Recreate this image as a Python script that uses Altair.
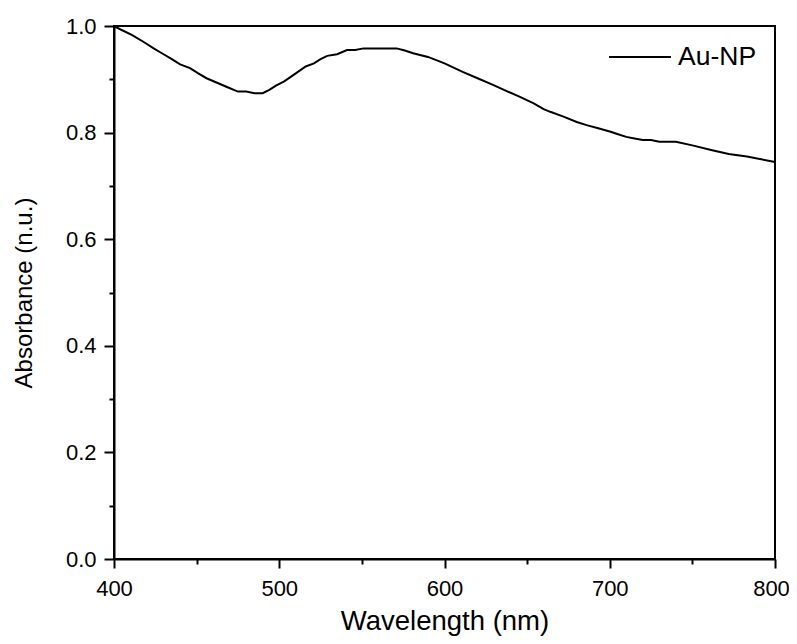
import altair as alt
import pandas as pd

wavelength = [400, 405, 411, 418, 424, 430, 435, 440, 446, 451, 456, 462, 468, 475, 480,
              485, 490, 494, 498, 503, 510, 516, 521, 525, 529, 535, 541, 546, 551, 560,
              571, 576, 581, 590, 600, 611, 620, 629, 636, 645, 654, 660, 664, 672, 680,
              686, 693, 700, 705, 710, 715, 720, 725, 730, 740, 750, 762, 772, 783, 790, 800]
absorbance = [1.000, 0.992, 0.983, 0.970, 0.958, 0.947, 0.938, 0.928, 0.921, 0.911, 0.902,
              0.894, 0.886, 0.877, 0.877, 0.874, 0.874, 0.880, 0.888, 0.896, 0.911, 0.924,
              0.930, 0.938, 0.944, 0.947, 0.955, 0.955, 0.958, 0.958, 0.958, 0.954, 0.949,
              0.942, 0.930, 0.914, 0.902, 0.890, 0.880, 0.868, 0.855, 0.844, 0.839, 0.830,
              0.820, 0.814, 0.808, 0.802, 0.797, 0.792, 0.789, 0.786, 0.786, 0.783, 0.783,
              0.776, 0.767, 0.760, 0.755, 0.751, 0.745]
series = ["Au-NP"] * len(wavelength)

x_ticks = [400, 450, 500, 550, 600, 650, 700, 750, 800]
y_ticks = [0.0, 0.1, 0.2, 0.3, 0.4, 0.5, 0.6, 0.7, 0.8, 0.9, 1.0]

df = pd.DataFrame({"wavelength": wavelength, "absorbance": absorbance, "series": series})

FONT = "Liberation Sans"
x_major_test = "datum.value % 100 === 0"
y_major_test = "abs(datum.value * 5 - round(datum.value * 5)) < 0.001"

chart = alt.Chart(df).mark_line(strokeWidth=2).encode(
    x=alt.X("wavelength:Q", scale=alt.Scale(domain=[400, 800], nice=False, zero=False),
            axis=alt.Axis(values=x_ticks, title="Wavelength (nm)",
                          tickSize={"condition": {"test": x_major_test, "value": 9}, "value": 5},
                          labelExpr=f"({x_major_test}) ? datum.label : ''",
                          labelFlush=False,
                          labelOffset={"condition": {"test": "datum.value === 800", "value": -4},
                                       "value": 0},
                          labelPadding=10, titlePadding=8,
                          titleFontSize=27.5, format="d")),
    y=alt.Y("absorbance:Q", scale=alt.Scale(domain=[0, 1], nice=False),
            axis=alt.Axis(values=y_ticks, title="Absorbance (n.u.)",
                          tickSize={"condition": {"test": y_major_test, "value": 10}, "value": 5},
                          labelExpr=f"({y_major_test}) ? datum.label : ''",
                          labelFlush=False, labelPadding=8, titlePadding=29,
                          titleFontSize=24, format=".1f")),
    color=alt.Color("series:N", scale=alt.Scale(range=["black"]),
                    legend=alt.Legend(title=None, orient="none", legendX=494, legendY=-1,
                                      symbolType="stroke", symbolSize=3844,
                                      symbolStrokeWidth=2, labelFontSize=26.5,
                                      labelFont=FONT, labelColor="black",
                                      labelOffset=6, padding=0)),
).properties(
    width=661, height=533,
    autosize=alt.AutoSizeParams(type="none"),
    padding={"left": 106, "top": 18, "right": 14, "bottom": 77},
).configure_view(stroke="black", strokeWidth=2).configure_axis(
    grid=False, domainColor="black", domainWidth=2, ticks=True,
    tickColor="black", tickWidth=2,
    labelFont=FONT, labelFontSize=22, labelColor="black",
    titleFont=FONT, titleFontWeight="normal", titleColor="black",
)

chart.save("out.html", embed_options={"renderer": "svg", "actions": False})
